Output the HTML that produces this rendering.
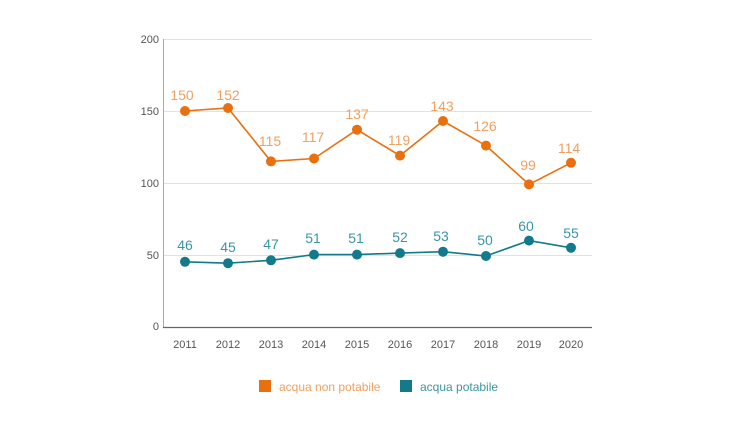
<!DOCTYPE html>
<html><head><meta charset="utf-8"><style>
body{margin:0;background:#fff;}
svg text{font-family:"Liberation Sans",sans-serif;}
</style></head><body>
<svg width="750" height="422" xmlns="http://www.w3.org/2000/svg">
<g stroke="#e2e2e2" stroke-width="1">
<line x1="163" y1="39.5" x2="592" y2="39.5"/>
<line x1="163" y1="111.5" x2="592" y2="111.5"/>
<line x1="163" y1="183.5" x2="592" y2="183.5"/>
<line x1="163" y1="255.5" x2="592" y2="255.5"/>
</g>
<line x1="163.5" y1="39" x2="163.5" y2="328" stroke="#aaa" stroke-width="1"/>
<line x1="163" y1="327.5" x2="592" y2="327.5" stroke="#666" stroke-width="1.2"/>
<g font-size="11" fill="#555" text-anchor="end">
<text x="159" y="43">200</text><text x="159" y="115">150</text><text x="159" y="187">100</text><text x="159" y="259">50</text><text x="159" y="330">0</text>
</g>
<g font-size="11" fill="#555" text-anchor="middle">
<text x="185" y="348">2011</text><text x="228" y="348">2012</text><text x="271" y="348">2013</text><text x="314" y="348">2014</text><text x="357" y="348">2015</text><text x="400" y="348">2016</text><text x="443" y="348">2017</text><text x="486" y="348">2018</text><text x="529" y="348">2019</text><text x="571" y="348">2020</text>
</g>
<polyline fill="none" stroke="#e8700f" stroke-width="1.6" points="185,111 228,108 271,161.4 314,158.5 357,129.7 400,155.6 443,121 486,145.6 529,184.4 571,162.8"/>
<g fill="#e8700f">
<circle cx="185" cy="111" r="5"/><circle cx="228" cy="108" r="5"/><circle cx="271" cy="161.4" r="5"/><circle cx="314" cy="158.5" r="5"/><circle cx="357" cy="129.7" r="5"/><circle cx="400" cy="155.6" r="5"/><circle cx="443" cy="121" r="5"/><circle cx="486" cy="145.6" r="5"/><circle cx="529" cy="184.4" r="5"/><circle cx="571" cy="162.8" r="5"/>
</g>
<g font-size="14" fill="#f0a060" text-anchor="middle">
<text x="182" y="100">150</text><text x="228" y="100">152</text><text x="270" y="146">115</text><text x="313" y="142">117</text><text x="357" y="119">137</text><text x="399" y="145">119</text><text x="442" y="111">143</text><text x="485" y="131">126</text><text x="528" y="170">99</text><text x="569" y="153">114</text>
</g>
<polyline fill="none" stroke="#127a8a" stroke-width="1.6" points="185,261.8 228,263.2 271,260.3 314,254.6 357,254.6 400,253.1 443,251.7 486,256 529,240.6 571,247.8"/>
<g fill="#127a8a">
<circle cx="185" cy="261.8" r="5"/><circle cx="228" cy="263.2" r="5"/><circle cx="271" cy="260.3" r="5"/><circle cx="314" cy="254.6" r="5"/><circle cx="357" cy="254.6" r="5"/><circle cx="400" cy="253.1" r="5"/><circle cx="443" cy="251.7" r="5"/><circle cx="486" cy="256" r="5"/><circle cx="529" cy="240.6" r="5"/><circle cx="571" cy="247.8" r="5"/>
</g>
<g font-size="14" fill="#3a95a5" text-anchor="middle">
<text x="185" y="250">46</text><text x="228" y="252">45</text><text x="271" y="249">47</text><text x="313" y="243">51</text><text x="356" y="243">51</text><text x="400" y="242">52</text><text x="441" y="241">53</text><text x="485" y="245">50</text><text x="526" y="231">60</text><text x="571" y="238">55</text>
</g>
<rect x="259" y="380" width="12" height="12" fill="#e8700f"/>
<text x="279" y="391" font-size="12" fill="#f0a060">acqua non potabile</text>
<rect x="400" y="380" width="12" height="12" fill="#127a8a"/>
<text x="420" y="391" font-size="12" fill="#3a95a5">acqua potabile</text>
</svg>
</body></html>
